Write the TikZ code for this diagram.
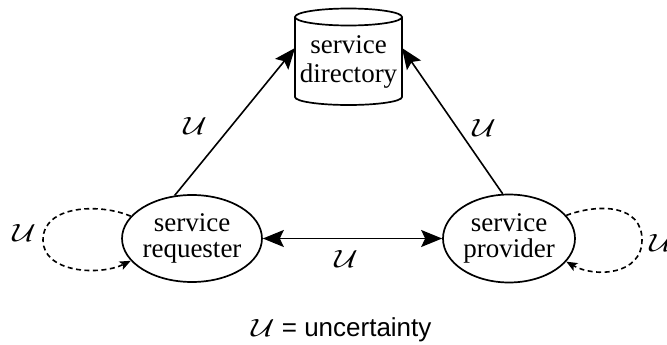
\documentclass[tikz,border=0pt]{standalone}
\usepackage{fontspec}
\setmainfont{Liberation Serif}
\setsansfont{Liberation Sans}
\usetikzlibrary{shapes.geometric,arrows.meta}
\newcommand{\unc}{\scalebox{1.3}[1]{$\mathcal{U}$}}
\begin{document}
\begin{tikzpicture}[x=1pt,y=-1pt,
  ent/.style={ellipse,draw,line width=1.7pt,inner sep=0pt,align=center,
    font=\fontsize{27}{26}\selectfont},
  conn/.style={line width=1.6pt,{Stealth[length=21pt,width=17pt,inset=4pt]}-},
  biconn/.style={line width=1.6pt,{Stealth[length=21pt,width=17pt,inset=4pt]}-{Stealth[length=21pt,width=17pt,inset=4pt]}},
  selfloop/.style={line width=1.6pt,dash pattern=on 5pt off 3.5pt,-{Stealth[length=11pt,width=9pt,inset=2.5pt]}},
  ulabel/.style={inner sep=0pt,font=\fontsize{32}{32}\selectfont}]
\useasboundingbox (0,0) rectangle (667,345);
% service directory (cylinder)
\draw[line width=1.7pt] (295,17) -- (295,97) arc[start angle=180,end angle=360,x radius=53.5,y radius=-8] -- (402,17);
\draw[line width=1.7pt] (348.5,17) ellipse[x radius=53.5,y radius=8.5];
\node[inner sep=0pt,align=center,font=\fontsize{27}{29}\selectfont] (dir) at (348.5,62) {service\\directory};
\coordinate (dirL) at (295,48);
\coordinate (dirR) at (402,48);
% entities
\node[ent,minimum width=130pt,minimum height=87pt] (req) at (192,238.5) {service\\requester};
\node[ent,minimum width=132pt,minimum height=88pt] (prov) at (509,238.5) {service\\provider};
% connectors
\draw[conn] (dirL) -- (req.112);
\draw[conn] (dirR) -- (prov.98);
\draw[biconn] (req) -- (prov);
\draw[selfloop] (req.160) .. controls (100,203) and (43,205) .. (43,240) .. controls (43,273) and (100,276) .. (req.200);
\draw[selfloop] (prov.22) .. controls (600,203) and (642,205) .. (642,240) .. controls (642,275) and (595,278) .. (prov.-22);
% labels
\node[ulabel] (u1) at (195,126) {\unc};
\node[ulabel] (u2) at (484,128) {\unc};
\node[ulabel] (u3) at (346,259) {\unc};
\node[ulabel] (u4) at (24,233) {\unc};
\node[ulabel] (u5) at (661,243) {\unc};
\node[inner sep=0pt,anchor=base west,font=\fontsize{26}{26}\sffamily] (leg) at (251,336) {{\fontsize{30}{30}\selectfont\scalebox{1.3}[1]{$\mathcal{U}$}} = uncertainty};
\end{tikzpicture}
\end{document}
